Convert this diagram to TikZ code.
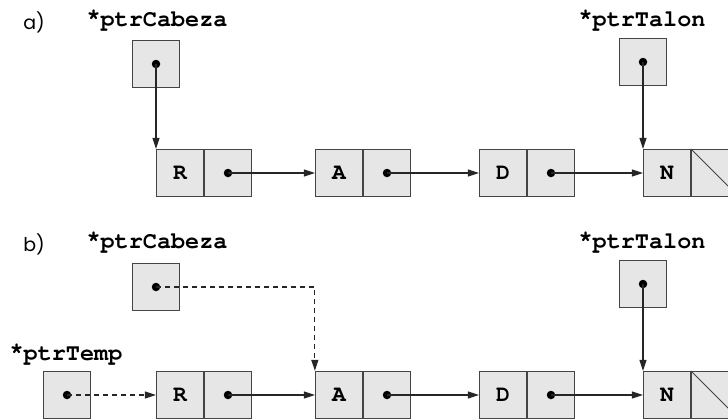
\documentclass[tikz,border=0pt]{standalone}
\usepackage[T1]{fontenc}
\usepackage{fontspec}
\newfontfamily\lblfont{Poppins}
\newcommand\courbold{\fontencoding{T1}\fontfamily{pcr}\fontseries{b}\selectfont}
\newcommand\hiast{\raisebox{0.22em}{*}}
\usetikzlibrary{arrows.meta}
\definecolor{cellfill}{HTML}{E6E6E6}
\definecolor{edge}{HTML}{444444}
\begin{document}
\begin{tikzpicture}[x=1pt,y=-1pt,
 cell/.style={draw=edge, fill=cellfill, line width=1.3pt, minimum size=47pt, inner sep=0pt, font=\courbold\fontsize{23}{23}\selectfont},
 lbl/.style={font=\courbold\fontsize{23.5}{23.5}\selectfont, inner sep=0pt},
 part/.style={font=\lblfont\fontsize{19}{19}\selectfont, inner sep=0pt},
 ptr/.style={-{Triangle[length=11pt,width=7pt]}, line width=1.1pt, draw=black!85},
 dptr/.style={ptr, dash pattern=on 5pt off 4pt},
 dot/.style={circle, fill=black, inner sep=0pt, minimum size=8.5pt}]
\useasboundingbox (0,0) rectangle (728,418);
\clip (0,0) rectangle (728,418);
% ---------- part a ----------
\node[part] (la) at (34,22) {a)};
\node[lbl] (lcab) at (157,20) {\hiast ptrCabeza};
\node[lbl] (ltal) at (642,20) {\hiast ptrTalon};
\node[cell] (cab) at (156,64) {};
\node[dot] (cabd) at (cab.center) {};
\node[cell] (tal) at (643,62) {};
\node[dot] (tald) at (tal.center) {};
\node[cell] (R) at (180,173) {R};
\node[cell] (Rp) at (228,173) {};
\node[dot] (Rd) at (Rp.center) {};
\node[cell] (A) at (339,173) {A};
\node[cell] (Ap) at (387,173) {};
\node[dot] (Ad) at (Ap.center) {};
\node[cell] (D) at (503,173) {D};
\node[cell] (Dp) at (551,173) {};
\node[dot] (Dd) at (Dp.center) {};
\node[cell] (N) at (667,173) {N};
\node[cell] (Np) at (715,173) {};
\draw[edge, line width=1pt] (Np.north west) -- (Np.south east);
\draw[ptr] (cabd.center) -- (cabd.center |- R.north);
\draw[ptr] (tald.center) -- (tald.center |- N.north);
\draw[ptr] (Rd.center) -- (A.west);
\draw[ptr] (Ad.center) -- (D.west);
\draw[ptr] (Dd.center) -- (N.west);
% ---------- part b ----------
\node[part] (lb) at (34,244) {b)};
\node[lbl] (lcab2) at (157,242) {\hiast ptrCabeza};
\node[lbl] (ltal2) at (642,242) {\hiast ptrTalon};
\node[lbl] (ltemp) at (66,354) {\hiast ptrTemp};
\node[cell] (cab2) at (156,287) {};
\node[dot] (cabd2) at (cab2.center) {};
\node[cell] (tal2) at (643,284) {};
\node[dot] (tald2) at (tal2.center) {};
\node[cell] (tmp) at (67,395) {};
\node[dot] (tmpd) at (tmp.center) {};
\node[cell] (R2) at (180,395) {R};
\node[cell] (Rp2) at (228,395) {};
\node[dot] (Rd2) at (Rp2.center) {};
\node[cell] (A2) at (339,395) {A};
\node[cell] (Ap2) at (387,395) {};
\node[dot] (Ad2) at (Ap2.center) {};
\node[cell] (D2) at (503,395) {D};
\node[cell] (Dp2) at (551,395) {};
\node[dot] (Dd2) at (Dp2.center) {};
\node[cell] (N2) at (667,395) {N};
\node[cell] (Np2) at (715,395) {};
\draw[edge, line width=1pt] (Np2.north west) -- (Np2.south east);
\draw[dptr] (cabd2.center) -| (A2.north west);
\draw[dptr] (tmpd.center) -- (R2.west);
\draw[ptr] (tald2.center) -- (tald2.center |- N2.north);
\draw[ptr] (Rd2.center) -- (A2.west);
\draw[ptr] (Ad2.center) -- (D2.west);
\draw[ptr] (Dd2.center) -- (N2.west);
\end{tikzpicture}
\end{document}
